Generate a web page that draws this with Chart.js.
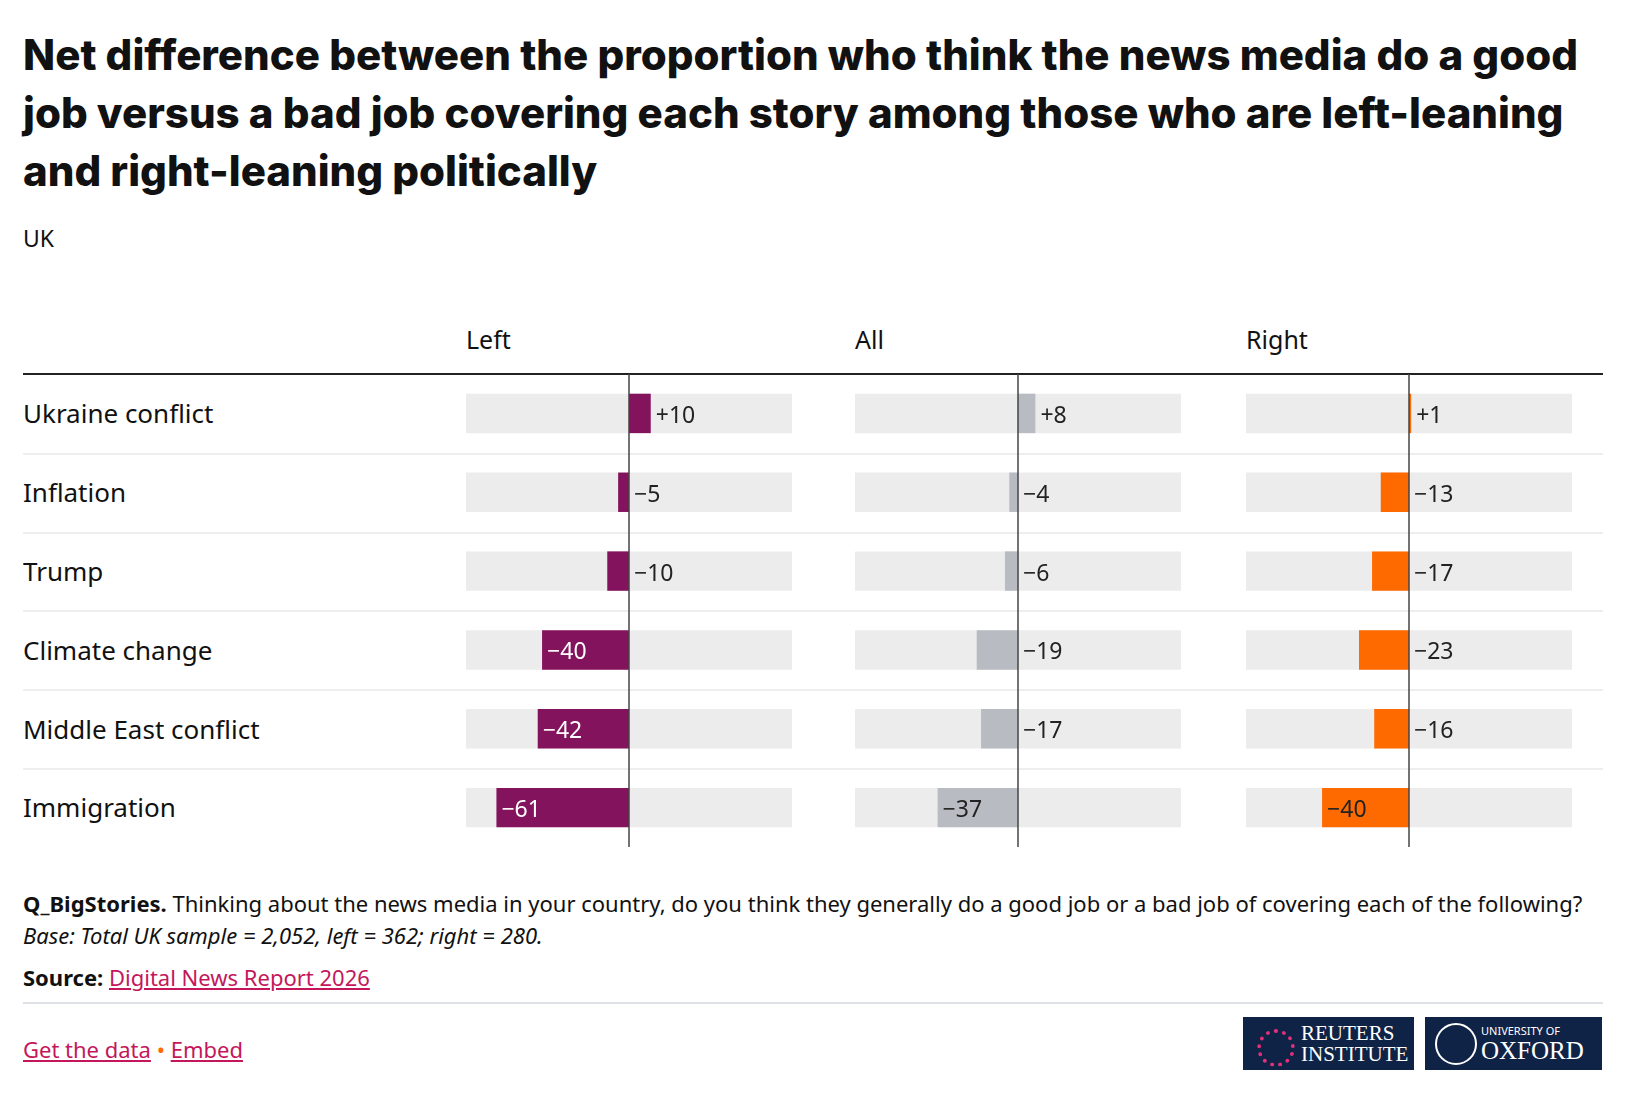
<!DOCTYPE html>
<html>
<head>
<meta charset="utf-8">
<script src="https://cdn.jsdelivr.net/npm/chart.js@4"></script>
<style>
  body { margin: 0; width: 1638px; height: 1100px; background: #fff; font-family: "Noto Sans", sans-serif; color: #111; position: relative; overflow: hidden; }
  .abs { position: absolute; }
  h1 { position: absolute; left: 23px; top: 26px; width: 1590px; margin: 0; font-size: 42px; line-height: 58px; font-weight: 800; font-family: Inter, "Noto Sans", sans-serif; letter-spacing: 0; }
  .sub { left: 23px; top: 222px; font-size: 23px; }
  .head { top: 322px; font-size: 25px; }
  .rule { left: 23px; width: 1580px; height: 0; }
  .rowlab { left: 23px; font-size: 26px; transform: translateY(-50%); }
  .foot { left: 23px; font-size: 22px; }
  a { color: #c4175b; }
  .logo { background: #0f2347; color: #fff; font-family: "Liberation Serif", serif; }
</style>
</head>
<body>
<h1>Net difference between the proportion who think the news media do a good job versus a bad job covering each story among those who are left-leaning and right-leaning politically</h1>
<div class="abs sub">UK</div>
<div class="abs head" style="left:466px">Left</div>
<div class="abs head" style="left:855px">All</div>
<div class="abs head" style="left:1246px">Right</div>
<div class="abs rule" style="top:373px;border-top:2px solid #222"></div>
<div id="rows"></div>
<canvas id="c0" class="abs" style="left:466px;top:374px"></canvas>
<canvas id="c1" class="abs" style="left:855px;top:374px"></canvas>
<canvas id="c2" class="abs" style="left:1246px;top:374px"></canvas>

<div class="abs foot" style="top:888px;width:1600px"><b>Q_BigStories.</b> Thinking about the news media in your country, do you think they generally do a good job or a bad job of covering each of the following?</div>
<div class="abs foot" style="top:920px"><i>Base: Total UK sample = 2,052, left = 362; right = 280.</i></div>
<div class="abs foot" style="top:962px"><b>Source:</b> <a href="#">Digital News Report 2026</a></div>
<div class="abs rule" style="top:1002px;border-top:2px solid #dde0e4"></div>
<div class="abs foot" style="top:1034px"><a href="#">Get the data</a> <span style="color:#ff6a00">•</span> <a href="#">Embed</a></div>
<div class="abs logo" style="left:1243px;top:1017px;width:171px;height:53px">
  <div class="abs" style="left:58px;top:6px;font-size:21px;line-height:21px">REUTERS<br>INSTITUTE</div>
  <div class="abs" style="left:14px;top:12px;width:30px;height:30px;border-radius:50%;border:4px dotted #e0307a"></div>
</div>
<div class="abs logo" style="left:1425px;top:1017px;width:177px;height:53px">
  <div class="abs" style="left:10px;top:6px;width:38px;height:38px;border-radius:50%;border:2px solid #fff"></div>
  <div class="abs" style="left:56px;top:6px;font-size:11px;font-family:'Noto Sans'">UNIVERSITY OF</div>
  <div class="abs" style="left:56px;top:20px;font-size:25px">OXFORD</div>
</div>

<script>
const categories = ['Ukraine conflict', 'Inflation', 'Trump', 'Climate change', 'Middle East conflict', 'Immigration'];
const groups = ['Left', 'All', 'Right'];
const leftValues = [10, -5, -10, -40, -42, -61];
const allValues = [8, -4, -6, -19, -17, -37];
const rightValues = [1, -13, -17, -23, -16, -40];
const barColors = ['#84135e', '#b8bcc2', '#ff6a00'];
const labelInsideColors = ['#ffffff', '#222222', '#222222'];

const rowTop = 374, rowH = 78.8;
const rowsDiv = document.getElementById('rows');
categories.forEach((c, i) => {
  const lab = document.createElement('div');
  lab.className = 'abs rowlab';
  lab.style.top = (rowTop + rowH * (i + 0.5)) + 'px';
  lab.textContent = c;
  rowsDiv.appendChild(lab);
  if (i > 0) {
    const r = document.createElement('div');
    r.className = 'abs rule';
    r.style.top = (rowTop + rowH * i) + 'px';
    r.style.borderTop = '2px solid #eceef0';
    rowsDiv.appendChild(r);
  }
});

const fmt = v => (v > 0 ? '+' : '\u2212') + Math.abs(v);

const labelPlugin = {
  id: 'labels',
  afterDatasetsDraw(chart) {
    const { ctx, scales } = chart;
    const x0 = scales.x.getPixelForValue(0);
    const idx = chart.options.plugins.labels.index;
    const vals = chart.data.datasets[1].data;
    ctx.save();
    // zero line
    ctx.strokeStyle = '#444';
    ctx.lineWidth = 1.5;
    ctx.beginPath();
    ctx.moveTo(x0, 0);
    ctx.lineTo(x0, chart.height);
    ctx.stroke();
    ctx.font = '23px "Noto Sans"';
    ctx.textBaseline = 'middle';
    vals.forEach((v, i) => {
      const y = scales.y.getPixelForValue(i) + 3;
      const xe = scales.x.getPixelForValue(v);
      if (v < -30) {
        ctx.fillStyle = labelInsideColors[idx];
        ctx.fillText(fmt(v), xe + 5, y);
      } else {
        ctx.fillStyle = '#222';
        ctx.fillText(fmt(v), Math.max(xe, x0) + 5, y);
      }
    });
    ctx.restore();
  }
};

[leftValues, allValues, rightValues].forEach((vals, k) => {
  const cv = document.getElementById('c' + k);
  cv.width = 326; cv.height = 473;
  cv.style.width = '326px'; cv.style.height = '473px';
  new Chart(cv.getContext('2d'), {
    type: 'bar',
    data: {
      labels: categories,
      datasets: [
        { data: categories.map(() => [-75, 75]), backgroundColor: '#ececec', grouped: false, order: 2 },
        { data: vals, backgroundColor: barColors[k], grouped: false, order: 1 }
      ]
    },
    options: {
      indexAxis: 'y',
      responsive: false,
      animation: false,
      barPercentage: 0.5,
      categoryPercentage: 1,
      layout: { padding: 0 },
      scales: {
        x: { display: false, min: -75, max: 75 },
        y: { display: false }
      },
      plugins: { legend: { display: false }, tooltip: { enabled: false }, labels: { index: k } }
    },
    plugins: [labelPlugin]
  });
});
</script>
</body>
</html>
